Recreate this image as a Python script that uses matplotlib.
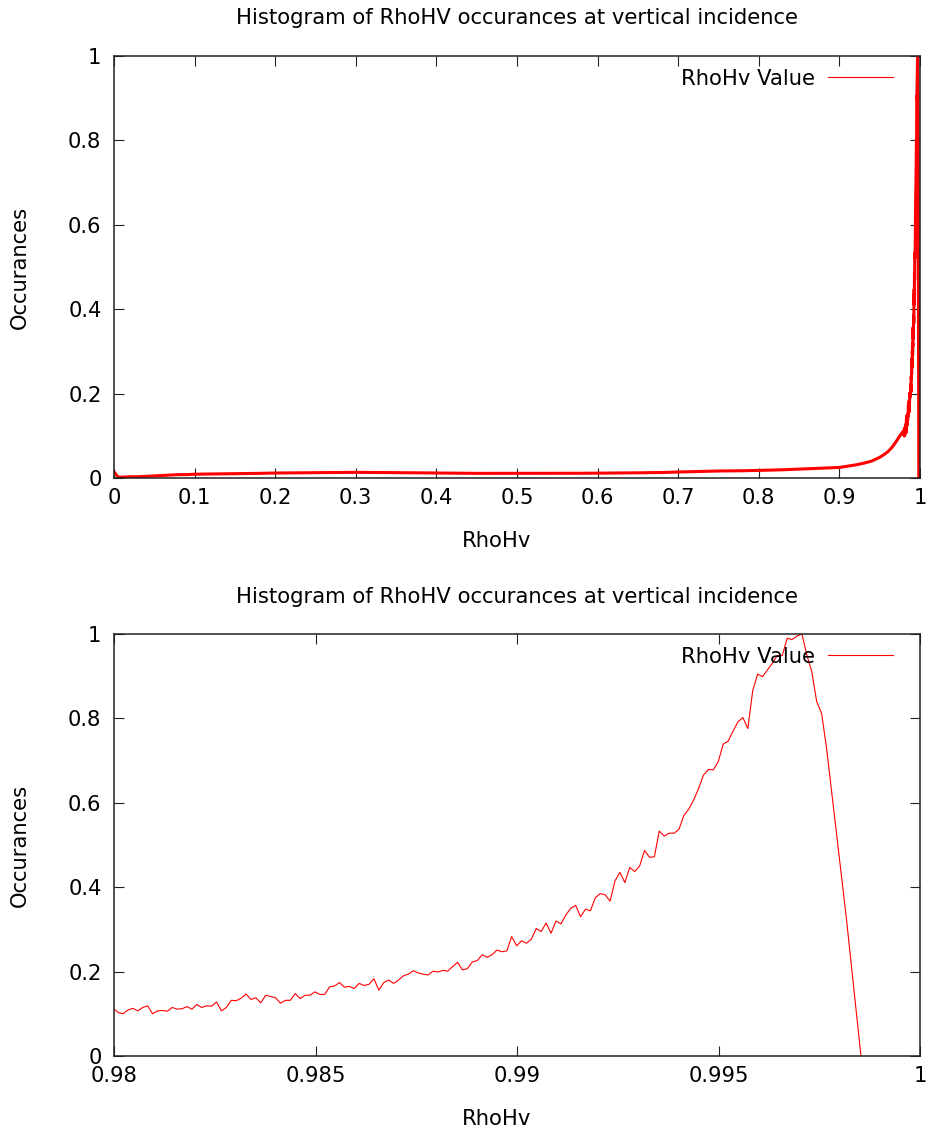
import numpy as np
import matplotlib
matplotlib.use('Agg')
import matplotlib.pyplot as plt
from matplotlib.ticker import FuncFormatter

TITLE = 'Histogram of RhoHV occurances at vertical incidence'

# coarse read-off of the full range (normalised counts)
rho_coarse = [0.0, 0.005, 0.01, 0.02, 0.03, 0.04, 0.05, 0.06, 0.07, 0.08, 0.09,
              0.10, 0.12, 0.15, 0.18, 0.20, 0.22, 0.25, 0.28, 0.30, 0.33, 0.35,
              0.38, 0.40, 0.43, 0.45, 0.48, 0.50, 0.53, 0.55, 0.58, 0.60, 0.63,
              0.65, 0.68, 0.70, 0.73, 0.75, 0.78, 0.80, 0.83, 0.85, 0.88, 0.90,
              0.91, 0.92, 0.93, 0.94, 0.95, 0.955, 0.96, 0.965, 0.97, 0.975]
occ_coarse = [0.015, 0.002, 0.002, 0.003, 0.003, 0.004, 0.005, 0.006, 0.007, 0.008, 0.008,
              0.009, 0.0095, 0.0103, 0.011, 0.0118, 0.0122, 0.0126, 0.013, 0.0134, 0.013, 0.0126,
              0.0122, 0.0118, 0.0114, 0.011, 0.011, 0.011, 0.011, 0.011, 0.0112, 0.0115, 0.012,
              0.0123, 0.013, 0.0142, 0.0155, 0.0166, 0.0172, 0.018, 0.0195, 0.021, 0.023, 0.025,
              0.028, 0.031, 0.035, 0.040, 0.049, 0.055, 0.062, 0.072, 0.085, 0.100]

# fine bins (1/8192 wide) from bin 8028 up
first_bin = 8028
n_bins = 8192
occ_fine = [0.113, 0.103, 0.100, 0.109, 0.113, 0.107, 0.115, 0.119, 0.100, 0.107,
            0.108, 0.106, 0.115, 0.111, 0.112, 0.117, 0.111, 0.122, 0.115, 0.119,
            0.118, 0.128, 0.107, 0.115, 0.132, 0.131, 0.137, 0.147, 0.134, 0.138,
            0.126, 0.144, 0.141, 0.138, 0.125, 0.132, 0.132, 0.148, 0.136, 0.144,
            0.144, 0.152, 0.146, 0.146, 0.164, 0.166, 0.174, 0.163, 0.165, 0.160,
            0.172, 0.167, 0.170, 0.183, 0.156, 0.174, 0.180, 0.172, 0.180, 0.190,
            0.194, 0.202, 0.197, 0.194, 0.192, 0.201, 0.199, 0.203, 0.201, 0.212,
            0.222, 0.204, 0.207, 0.223, 0.226, 0.240, 0.234, 0.240, 0.251, 0.247,
            0.249, 0.283, 0.261, 0.273, 0.267, 0.277, 0.302, 0.295, 0.315, 0.291,
            0.320, 0.313, 0.334, 0.350, 0.357, 0.330, 0.348, 0.344, 0.375, 0.385,
            0.382, 0.367, 0.415, 0.435, 0.411, 0.447, 0.437, 0.450, 0.487, 0.471,
            0.472, 0.533, 0.521, 0.528, 0.528, 0.537, 0.570, 0.585, 0.607, 0.634,
            0.666, 0.679, 0.678, 0.698, 0.739, 0.746, 0.770, 0.792, 0.802, 0.776,
            0.866, 0.905, 0.899, 0.915, 0.931, 0.949, 0.949, 0.990, 0.987, 0.995,
            1.000, 0.950, 0.911, 0.840, 0.812, 0.730, 0.630, 0.530, 0.430, 0.330,
            0.220, 0.110, 0.000]
rho_fine = (first_bin + np.arange(len(occ_fine))) / n_bins

top_xticks = [0, 0.1, 0.2, 0.3, 0.4, 0.5, 0.6, 0.7, 0.8, 0.9, 1]
bot_xticks = [0.98, 0.985, 0.99, 0.995, 1]
yticks = [0, 0.2, 0.4, 0.6, 0.8, 1]

plt.rcParams['font.family'] = 'DejaVu Sans'
FS = 15.2


def fmt(v, pos):
    return '%g' % round(v, 6)


def style_axes(ax, xlim, xticks):
    ax.set_xlim(*xlim)
    ax.set_ylim(0, 1)
    ax.set_xticks(xticks)
    ax.set_yticks(yticks)
    ax.xaxis.set_major_formatter(FuncFormatter(fmt))
    ax.yaxis.set_major_formatter(FuncFormatter(fmt))
    ax.tick_params(direction='in', length=7, width=0.8, top=True, right=True,
                   labelsize=FS, color='#222222')
    ax.tick_params(axis='x', pad=7)
    ax.tick_params(axis='y', pad=9)
    for s in ax.spines.values():
        s.set_linewidth(1.1)
        s.set_color('#222222')
    leg = ax.legend(loc='upper right', frameon=False, markerfirst=False,
                    fontsize=FS, handlelength=3.1, handletextpad=0.6,
                    bbox_to_anchor=(0.977, 0.99), borderaxespad=0)
    leg.get_lines()[0].set_linewidth(0.8)


fig = plt.figure(figsize=(9.31, 11.33), dpi=100)
ax1 = fig.add_axes([114 / 931, 1 - 478 / 1133, 806 / 931, 422 / 1133])
ax2 = fig.add_axes([114 / 931, 1 - 1056 / 1133, 806 / 931, 422 / 1133])

rho_top = np.concatenate([rho_coarse, rho_fine])
occ_top = np.concatenate([occ_coarse, occ_fine])
ax1.plot(rho_top, occ_top, color='red', lw=2.2, label='RhoHv Value')
style_axes(ax1, (0, 1), top_xticks)

ax2.plot(rho_fine, occ_fine, color='red', lw=0.8, label='RhoHv Value')
style_axes(ax2, (0.98, 1), bot_xticks)

for ty, ly, xy in [(18, 541, 267), (597, 1119, 845)]:
    fig.text(517 / 931, 1 - ty / 1133, TITLE, ha='center', va='center', fontsize=FS)
    fig.text(497 / 931, 1 - ly / 1133, 'RhoHv', ha='center', va='center', fontsize=FS)
    fig.text(20 / 931, 1 - xy / 1133, 'Occurances', ha='center', va='center',
             rotation=90, fontsize=FS)

fig.savefig('out.png', dpi=100)
